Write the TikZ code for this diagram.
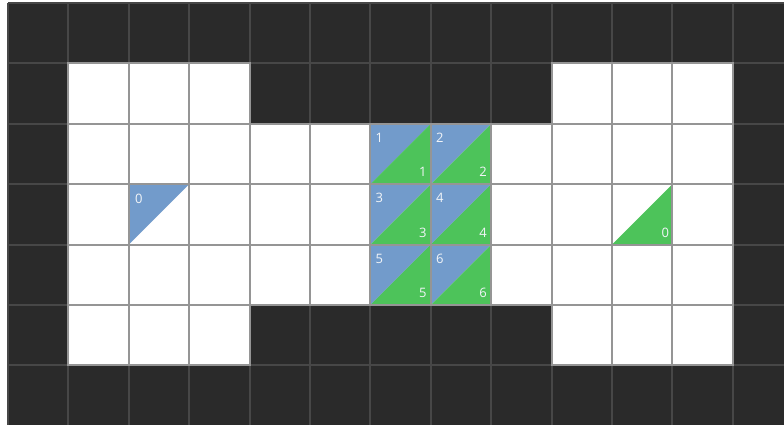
\documentclass[tikz,border=0pt]{standalone}
\usepackage{fontspec}
\setmainfont{Open Sans}
\usetikzlibrary{calc}
\definecolor{wall}{HTML}{2A2A2A}
\definecolor{wallline}{HTML}{474747}
\definecolor{cellline}{HTML}{959595}
\definecolor{triblue}{HTML}{729BCB}
\definecolor{trigreen}{HTML}{4DC35A}
\definecolor{labelcol}{HTML}{F2F5F8}
\tikzset{
  wallgrid/.style={draw=wallline, line width=2pt},
  floorcell/.style={fill=white},
  floorgrid/.style={draw=cellline, line width=2pt},
  bluetri/.style={fill=triblue},
  greentri/.style={fill=trigreen},
  numlabel/.style={text=labelcol, font=\fontsize{13}{13}\selectfont, inner sep=0pt, anchor=center}
}
\begin{document}
\begin{tikzpicture}[x=1pt,y=-1pt]
\useasboundingbox (0,0) rectangle (784,425);
\clip (0,0) rectangle (784,425);
\fill[white] (0,0) rectangle (784,425);
\begin{scope}[shift={(8,3)}, x=60.4pt, y=-60.4pt]
  % walls
  \fill[wall] (0,0) rectangle (13,7);
  \foreach \i in {0,...,13} { \draw[wallgrid] (\i,0) -- (\i,7); }
  \foreach \j in {0,...,7} { \draw[wallgrid] (0,\j) -- (13,\j); }
  % floor cells
  \foreach \c/\r in {1/1,2/1,3/1,9/1,10/1,11/1,1/5,2/5,3/5,9/5,10/5,11/5} {
    \fill[floorcell] (\c,\r) rectangle (\c+1,\r+1);
  }
  \foreach \r in {2,3,4} {
    \foreach \c in {1,...,11} {
      \fill[floorcell] (\c,\r) rectangle (\c+1,\r+1);
    }
  }
  % triangles
  \fill[bluetri] (2,3) -- (3,3) -- (2,4) -- cycle;
  \fill[greentri] (10,4) -- (11,4) -- (11,3) -- cycle;
  \foreach \c/\r in {6/2,7/2,6/3,7/3,6/4,7/4} {
    \fill[bluetri] (\c,\r) -- (\c+1,\r) -- (\c,\r+1) -- cycle;
    \fill[greentri] (\c,\r+1) -- (\c+1,\r+1) -- (\c+1,\r) -- cycle;
  }
  % floor grid lines
  \foreach \c/\r in {1/1,2/1,3/1,9/1,10/1,11/1,1/5,2/5,3/5,9/5,10/5,11/5} {
    \draw[floorgrid] (\c,\r) rectangle (\c+1,\r+1);
  }
  \foreach \r in {2,3,4} {
    \foreach \c in {1,...,11} {
      \draw[floorgrid] (\c,\r) rectangle (\c+1,\r+1);
    }
  }
  % labels
  \node[numlabel] (b0) at ($(2,3)+(10pt,-15pt)$) {0};
  \node[numlabel] (g0) at ($(11,4)+(-7pt,12pt)$) {0};
  \foreach \n/\c/\r in {1/6/2,2/7/2,3/6/3,4/7/3,5/6/4,6/7/4} {
    \node[numlabel] (b\n) at ($(\c,\r)+(9pt,-14pt)$) {\n};
    \node[numlabel] (g\n) at ($(\c+1,\r+1)+(-8pt,12pt)$) {\n};
  }
\end{scope}
\end{tikzpicture}
\end{document}
